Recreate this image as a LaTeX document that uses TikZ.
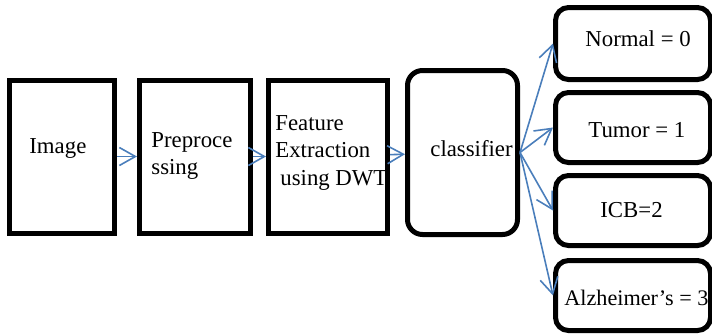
\documentclass[tikz,border=0pt]{standalone}
\usepackage{fontspec}
\setmainfont{Liberation Serif}
\usetikzlibrary{arrows.meta}
\definecolor{flowblue}{RGB}{74,126,187}

\begin{document}
\begin{tikzpicture}[x=0.5pt,y=-0.5pt,
  blk/.style={draw=black,line width=2.5pt,inner sep=0pt},
  rblk/.style={blk,rounded corners=6.5pt,minimum width=77.5pt},
  lbl/.style={inner sep=0pt,anchor=north west,align=left,font=\fontsize{11.4}{13.8}\selectfont},
  flow/.style={draw=flowblue,line width=0.8pt,-{Straight Barb[length=8pt,width=9pt]}}]
\useasboundingbox (0,0) rectangle (712,334);

% pipeline boxes
\node[blk,minimum width=52.5pt,minimum height=76.5pt] (img) at (62,156.5) {};
\node[blk,minimum width=55.5pt,minimum height=76.5pt] (pre) at (195,156.5) {};
\node[blk,minimum width=59.5pt,minimum height=76.5pt] (feat) at (328,156.5) {};
\node[blk,rounded corners=7.5pt,minimum width=55pt,minimum height=82pt] (cls) at (462.5,152.5) {};

% class boxes
\node[rblk,minimum height=36pt] (c0) at (633,43.5) {};
\node[rblk,minimum height=35pt] (c1) at (633,127.5) {};
\node[rblk,minimum height=35pt] (c2) at (633,210.5) {};
\node[rblk,minimum height=35pt] (c3) at (633,295.5) {};

% texts
\node[lbl] (imgtxt) at (29,138) {Image};
\node[lbl] (pretxt) at (151,132) {Preproce\\ssing};
\node[lbl] (feattxt) at (275,115) {Feature\\Extraction\\\hspace*{2.5pt}using DWT};
\node[lbl] (clstxt) at (430,140) {classifier};
\node[lbl] (c0txt) at (585,30) {Normal = 0};
\node[lbl] (c1txt) at (588,122) {Tumor = 1};
\node[lbl] (c2txt) at (600,202) {ICB=2};
\node[lbl,font=\fontsize{11.1}{13.8}\selectfont] (c3txt) at (564,290) {Alzheimer’s = 3};

% arrows
\draw[flow] (img) -- (pre);
\draw[flow] (pre) -- (feat);
\draw[flow] (feat) -- (cls);
\draw[flow] (cls.east) -- (c0.west);
\draw[flow] (cls.east) -- (c1.west);
\draw[flow] (cls.east) -- (c2.west);
\draw[flow] (cls.east) -- (c3.west);

\end{tikzpicture}
\end{document}
